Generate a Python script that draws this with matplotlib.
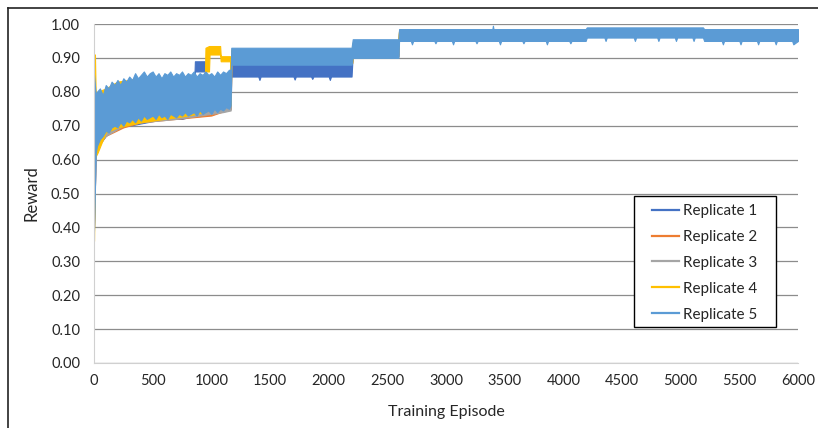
import matplotlib
matplotlib.use("Agg")
import matplotlib.pyplot as plt
from matplotlib.lines import Line2D
from matplotlib.patches import Rectangle

plt.rcParams['font.family'] = ['Lato', 'DejaVu Sans']

names = ['Replicate 1', 'Replicate 2', 'Replicate 3', 'Replicate 4', 'Replicate 5']
colors = ['#4472C4', '#ED7D31', '#A5A5A5', '#FFC000', '#5B9BD5']

# each replicate is drawn as the band its reward swings through (episode, low, high)
rep1_ep = [0, 15, 100, 200, 300, 450, 600, 750, 855, 860, 945, 950, 1100, 1165,
           1170, 1400, 1410, 1420, 1700, 1710, 1720, 1850, 1860, 1870, 2000, 2010, 2020, 2195,
           2205, 2595, 2600, 6000]
rep1_high = [0.84, 0.78, 0.80, 0.82, 0.83, 0.84, 0.84, 0.84, 0.84, 0.89, 0.89, 0.84, 0.85, 0.85,
             0.90, 0.90, 0.90, 0.90, 0.90, 0.90, 0.90, 0.90, 0.90, 0.90, 0.90, 0.90, 0.90, 0.90,
             0.94, 0.94, 0.98, 0.98]
rep1_low = [0.40, 0.63, 0.67, 0.70, 0.70, 0.71, 0.72, 0.72, 0.73, 0.86, 0.86, 0.74, 0.75, 0.75,
            0.845, 0.845, 0.835, 0.845, 0.845, 0.836, 0.845, 0.845, 0.838, 0.845, 0.845, 0.835, 0.845, 0.845,
            0.91, 0.91, 0.962, 0.962]

rep2_ep = [0, 15, 100, 250, 400, 700, 1000, 1165, 1170, 2200, 2205, 2595, 2600, 6000]
rep2_high = [0.84, 0.78, 0.80, 0.83, 0.84, 0.84, 0.84, 0.85, 0.92, 0.92, 0.94, 0.94, 0.98, 0.98]
rep2_low = [0.40, 0.63, 0.67, 0.695, 0.71, 0.72, 0.73, 0.75, 0.885, 0.885, 0.905, 0.905, 0.962, 0.962]

rep3_ep = [0, 15, 100, 250, 400, 700, 1000, 1100, 1165, 1170, 2200, 2205, 2595, 2600, 6000]
rep3_high = [0.84, 0.78, 0.80, 0.83, 0.84, 0.84, 0.84, 0.85, 0.85, 0.92, 0.92, 0.94, 0.94, 0.98, 0.98]
rep3_low = [0.40, 0.63, 0.67, 0.70, 0.71, 0.72, 0.735, 0.74, 0.745, 0.885, 0.885, 0.905, 0.905, 0.962, 0.962]

rep4_ep = [0, 8, 15, 30, 100, 200, 400, 600, 800, 945, 950, 980, 985, 1075, 1080, 1160,
           1165, 1170, 2200, 2205, 2590, 2600, 6000]
rep4_high = [0.91, 0.91, 0.78, 0.80, 0.81, 0.83, 0.84, 0.84, 0.84, 0.84, 0.93, 0.935, 0.935, 0.935, 0.905, 0.905,
             0.86, 0.925, 0.925, 0.945, 0.945, 0.98, 0.98]
rep4_low = [0.36, 0.60, 0.61, 0.62, 0.68, 0.695, 0.71, 0.72, 0.73, 0.74, 0.86, 0.86, 0.91, 0.91, 0.89, 0.89,
            0.76, 0.885, 0.885, 0.90, 0.90, 0.962, 0.962]

rep5_ep = [0, 15, 25, 50, 75, 100, 125, 150, 175, 200, 225, 250, 275, 300, 325, 350,
           375, 400, 425, 450, 475, 500, 525, 550, 575, 600, 625, 650, 675, 700, 725, 750,
           775, 800, 825, 850, 875, 900, 925, 950, 975, 1000, 1025, 1050, 1075, 1100, 1125,
           1150, 1165,
           1170, 2195, 2205, 2595,
           2600, 2700, 2710, 2720, 2900, 2910, 2920, 3050, 3060, 3070, 3250, 3260, 3270,
           3395, 3400, 3405, 3450, 3460, 3470, 3650, 3660, 3670, 3850, 3860, 3870,
           4050, 4060, 4070, 4190, 4200, 4350, 4360, 4370, 4600, 4610, 4620, 4800, 4810,
           4820, 4950, 4960, 4970, 5100, 5110, 5120, 5190, 5200, 5350, 5360, 5370, 5500,
           5510, 5520, 5650, 5660, 5670, 5800, 5810, 5820, 5950, 5960, 6000]
rep5_high = [0.85, 0.79, 0.80, 0.81, 0.79, 0.82, 0.81, 0.83, 0.82, 0.835, 0.82, 0.84, 0.83, 0.845, 0.835, 0.855,
             0.84, 0.85, 0.86, 0.845, 0.855, 0.86, 0.845, 0.855, 0.84, 0.855, 0.85, 0.86, 0.845, 0.855, 0.85, 0.86,
             0.845, 0.855, 0.85, 0.86, 0.845, 0.855, 0.85, 0.86, 0.85, 0.855, 0.845, 0.86, 0.85, 0.86, 0.855,
             0.865, 0.865,
             0.93, 0.93, 0.955, 0.955,
             0.985, 0.985, 0.985, 0.985, 0.985, 0.985, 0.985, 0.985, 0.985, 0.985, 0.985, 0.985, 0.985,
             0.985, 0.995, 0.985, 0.985, 0.985, 0.985, 0.985, 0.985, 0.985, 0.985, 0.985, 0.985,
             0.985, 0.985, 0.985, 0.985, 0.99, 0.99, 0.99, 0.99, 0.99, 0.99, 0.99, 0.99, 0.99,
             0.99, 0.99, 0.99, 0.99, 0.99, 0.99, 0.99, 0.99, 0.985, 0.985, 0.985, 0.985, 0.985,
             0.985, 0.985, 0.985, 0.985, 0.985, 0.985, 0.985, 0.985, 0.985, 0.985, 0.985]
rep5_low = [0.39, 0.62, 0.64, 0.66, 0.67, 0.685, 0.68, 0.695, 0.70, 0.695, 0.71, 0.70, 0.715, 0.71, 0.72, 0.71,
            0.725, 0.715, 0.73, 0.72, 0.725, 0.73, 0.72, 0.735, 0.725, 0.73, 0.72, 0.735, 0.73, 0.725, 0.735, 0.73,
            0.74, 0.73, 0.735, 0.74, 0.73, 0.745, 0.735, 0.74, 0.745, 0.735, 0.75, 0.74, 0.75, 0.745, 0.755,
            0.75, 0.76,
            0.88, 0.88, 0.90, 0.90,
            0.95, 0.95, 0.94, 0.95, 0.95, 0.943, 0.95, 0.95, 0.94, 0.95, 0.95, 0.943, 0.95,
            0.95, 0.95, 0.95, 0.95, 0.94, 0.95, 0.95, 0.943, 0.95, 0.95, 0.94, 0.95,
            0.95, 0.943, 0.95, 0.95, 0.96, 0.96, 0.95, 0.96, 0.96, 0.95, 0.96, 0.96, 0.95,
            0.96, 0.96, 0.95, 0.96, 0.96, 0.95, 0.96, 0.96, 0.95, 0.95, 0.94, 0.95, 0.95,
            0.94, 0.95, 0.95, 0.94, 0.95, 0.95, 0.94, 0.95, 0.95, 0.94, 0.95]

bands = [(rep1_ep, rep1_low, rep1_high),
         (rep2_ep, rep2_low, rep2_high),
         (rep3_ep, rep3_low, rep3_high),
         (rep4_ep, rep4_low, rep4_high),
         (rep5_ep, rep5_low, rep5_high)]

fig = plt.figure(figsize=(8.18, 4.28), dpi=100)
ax = fig.add_axes([94 / 818, 1 - 363 / 428, 704 / 818, 339 / 428])

for (ep, low, high), c, name in zip(bands, colors, names):
    ax.fill_between(ep, low, high, color=c, lw=0.8, edgecolor=c)
    ax.plot([], [], color=c, lw=1.6, label=name)

ax.set_xlim(0, 6000)
ax.set_ylim(0, 1)
ax.set_xticks(range(0, 6001, 500))
ax.set_yticks([i / 10 for i in range(11)])
ax.yaxis.set_major_formatter(plt.FormatStrFormatter('%.2f'))
ax.tick_params(length=0, labelsize=10.5, colors='#262626')
ax.tick_params(axis='x', pad=8)
ax.tick_params(axis='y', pad=10)
ax.grid(axis='y', color='#8c8c8c', lw=0.9)
ax.set_axisbelow(True)
for side in ['top', 'right']:
    ax.spines[side].set_visible(False)
for side in ['left', 'bottom']:
    ax.spines[side].set_color('#d0d0d0')

ax.set_xlabel('Training Episode', fontsize=11.5, color='#262626', labelpad=12)
ax.set_ylabel('Reward', fontsize=12, color='#262626', labelpad=8)

# legend box drawn separately so it can be padded wider than the entries
ax.add_patch(Rectangle((0.767, 0.106), 0.202, 0.387, transform=ax.transAxes,
                       facecolor='white', edgecolor='black', lw=1.0, zorder=4))
leg = ax.legend(loc='upper left', bbox_to_anchor=(0.7926, 0.469), frameon=False,
                fontsize=11, handlelength=1.8, labelspacing=0.78,
                borderpad=0, borderaxespad=0, handletextpad=0.25)
leg.set_zorder(5)
for t in leg.get_texts():
    t.set_color('#262626')

# chart border along the top and left
fig.add_artist(Line2D([8 / 818, 1], [1 - 8 / 428, 1 - 8 / 428], transform=fig.transFigure,
                      color='#222222', lw=1.2))
fig.add_artist(Line2D([8 / 818, 8 / 818], [0, 1 - 8 / 428], transform=fig.transFigure,
                      color='#222222', lw=1.2))

fig.savefig('out.png', dpi=100)
